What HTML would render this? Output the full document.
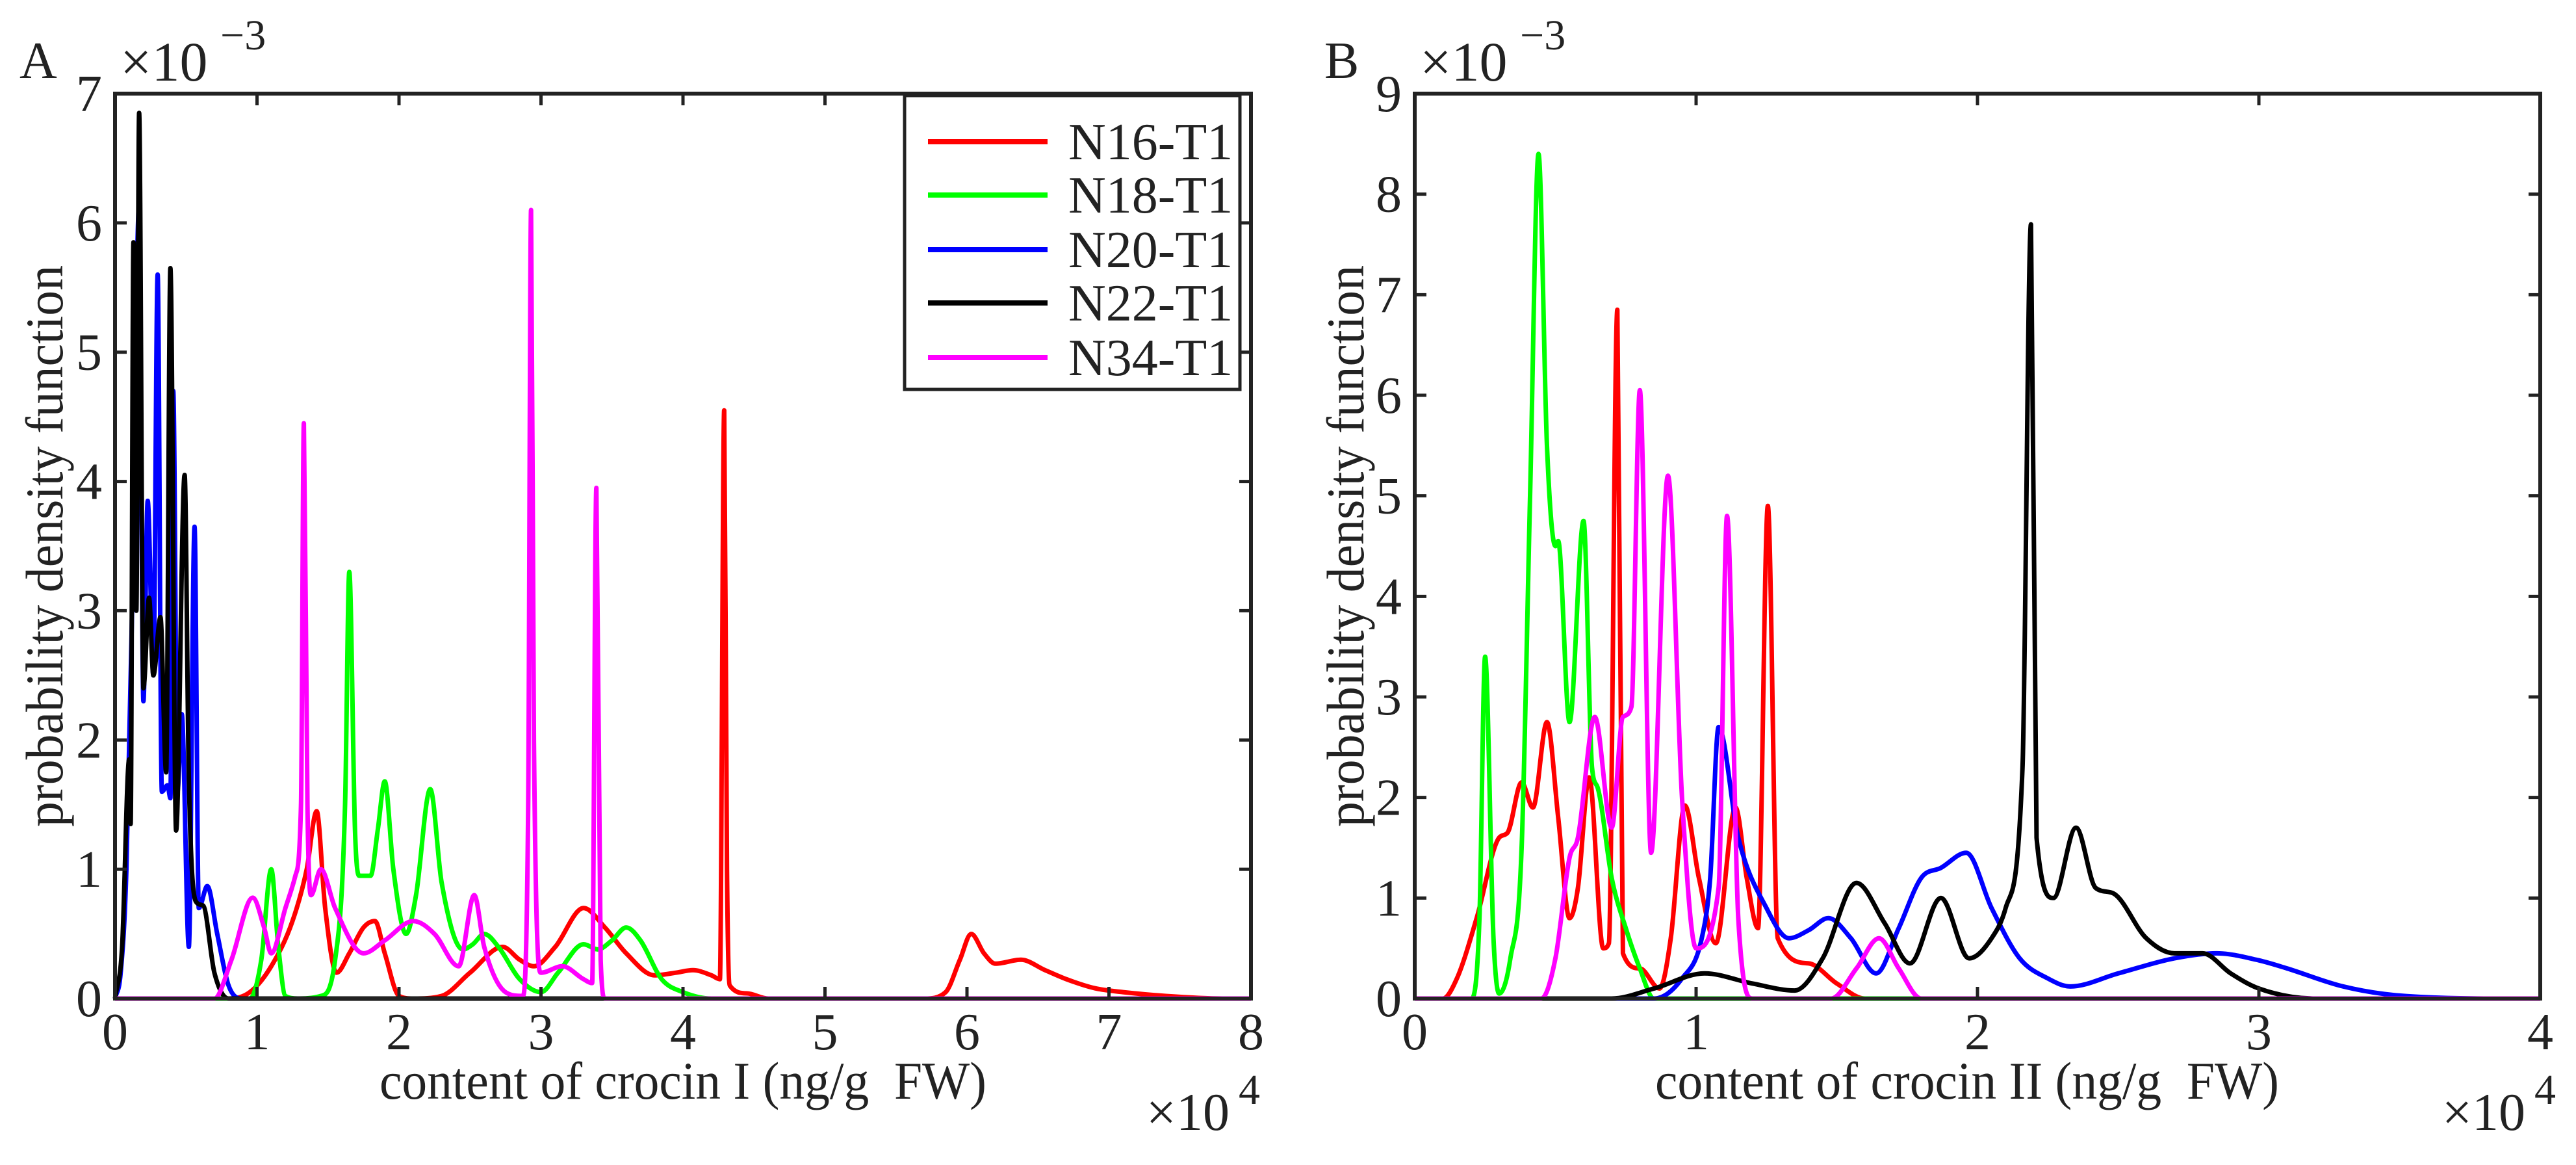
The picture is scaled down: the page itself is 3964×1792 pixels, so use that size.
<!DOCTYPE html>
<html><head><meta charset="utf-8"><style>
html,body{margin:0;padding:0;background:#fff;}
svg{display:block;font-family:"Liberation Serif",serif;}
</style></head><body>
<svg id="fig" width="3964" height="1792" viewBox="0 0 3964 1792" xmlns="http://www.w3.org/2000/svg">
<rect width="3964" height="1792" fill="#fff"/>
</svg>
<script>
// ---------- data (x in 1e4 ng/g, y in 1e-3) ----------
const seriesNames = ["N16-T1","N18-T1","N20-T1","N22-T1","N34-T1"];
const seriesColors = ["#ff0000","#00ff00","#0000ff","#000000","#ff00ff"];
const xTicksA = [0,1,2,3,4,5,6,7,8];
const yTicksA = [0,1,2,3,4,5,6,7];
const xTicksB = [0,1,2,3,4];
const yTicksB = [0,1,2,3,4,5,6,7,8,9];

const a_N16 = [[0,0],[0.8,0],[0.95,0.05],[1.1,0.25],[1.25,0.6],[1.35,1.0],[1.42,1.45],[1.48,0.7],[1.56,0.2],[1.65,0.35],[1.75,0.55],[1.83,0.6],[1.9,0.35],[2.0,0.02],[2.1,0],[2.3,0.02],[2.5,0.2],[2.73,0.4],[2.85,0.3],[2.95,0.25],[3.1,0.4],[3.3,0.7],[3.45,0.55],[3.6,0.35],[3.8,0.18],[3.95,0.2],[4.07,0.22],[4.2,0.18],[4.26,0.15],[4.29,4.55],[4.31,1.0],[4.33,0.1],[4.45,0.04],[4.6,0],[5.7,0],[5.85,0.05],[5.95,0.3],[6.03,0.5],[6.12,0.35],[6.2,0.27],[6.38,0.3],[6.55,0.22],[6.7,0.15],[6.9,0.08],[7.1,0.05],[7.4,0.02],[7.8,0],[7.95,0]];
const a_N18 = [[0,0],[0.95,0],[1.03,0.3],[1.1,1.0],[1.15,0.4],[1.2,0.02],[1.3,0],[1.45,0.02],[1.55,0.3],[1.62,1.5],[1.65,3.3],[1.69,1.3],[1.72,0.95],[1.8,0.95],[1.85,1.3],[1.9,1.68],[1.96,1.0],[2.05,0.5],[2.12,0.8],[2.22,1.62],[2.3,0.9],[2.45,0.38],[2.52,0.42],[2.6,0.5],[2.7,0.4],[2.85,0.15],[3.0,0.05],[3.12,0.2],[3.3,0.42],[3.4,0.38],[3.5,0.45],[3.6,0.55],[3.7,0.45],[3.85,0.15],[4.0,0.05],[4.2,0],[8,0]];
const a_N20 = [[0,0],[0.04,0.2],[0.08,1.0],[0.12,3.0],[0.17,6.15],[0.2,2.3],[0.23,3.85],[0.27,2.5],[0.3,5.6],[0.33,1.6],[0.37,1.65],[0.39,1.55],[0.41,4.7],[0.44,1.6],[0.47,2.2],[0.52,0.4],[0.56,3.65],[0.59,0.7],[0.65,0.87],[0.72,0.5],[0.8,0.1],[0.9,0],[8,0]];
const a_N22 = [[0,0],[0.05,0.4],[0.1,1.85],[0.11,1.35],[0.13,5.85],[0.15,3.0],[0.17,6.85],[0.2,2.4],[0.24,3.1],[0.27,2.5],[0.32,2.95],[0.36,1.75],[0.39,5.65],[0.43,1.3],[0.49,4.05],[0.52,1.7],[0.57,0.75],[0.62,0.72],[0.7,0.2],[0.8,0],[8,0]];
const a_N34 = [[0,0],[0.7,0],[0.82,0.3],[0.97,0.78],[1.05,0.55],[1.1,0.35],[1.2,0.7],[1.27,0.95],[1.31,1.5],[1.33,4.45],[1.355,1.5],[1.38,0.8],[1.45,1.0],[1.55,0.7],[1.75,0.35],[1.9,0.45],[2.1,0.6],[2.25,0.5],[2.42,0.25],[2.53,0.8],[2.6,0.4],[2.75,0.05],[2.87,0.02],[2.91,1.5],[2.93,6.1],[2.95,2.0],[3.0,0.2],[3.15,0.25],[3.3,0.15],[3.36,0.12],[3.39,3.95],[3.42,0.3],[3.45,0],[8,0]];

const b_N16 = [[0,0],[0.1,0],[0.15,0.2],[0.22,0.8],[0.3,1.6],[0.33,1.65],[0.38,2.15],[0.42,1.9],[0.47,2.75],[0.51,1.8],[0.55,0.8],[0.58,1.1],[0.62,2.2],[0.67,0.5],[0.69,0.55],[0.72,6.85],[0.74,0.45],[0.8,0.3],[0.87,0.1],[0.91,0.6],[0.96,1.92],[1.01,1.2],[1.07,0.55],[1.14,1.9],[1.18,1.2],[1.22,0.7],[1.255,4.9],[1.29,0.6],[1.4,0.35],[1.5,0.15],[1.6,0],[4,0]];
const b_N18 = [[0,0],[0.2,0],[0.23,0.8],[0.25,3.4],[0.28,0.6],[0.3,0.05],[0.34,0.4],[0.38,1.5],[0.41,5.0],[0.44,8.4],[0.47,5.5],[0.5,4.5],[0.51,4.55],[0.55,2.75],[0.6,4.75],[0.63,2.3],[0.65,2.1],[0.7,1.2],[0.75,0.7],[0.8,0.3],[0.85,0],[4,0]];
const b_N20 = [[0,0],[0.85,0],[0.95,0.2],[1.02,0.6],[1.05,1.2],[1.08,2.7],[1.15,1.6],[1.25,0.9],[1.33,0.6],[1.4,0.68],[1.47,0.8],[1.55,0.6],[1.64,0.25],[1.72,0.7],[1.8,1.2],[1.87,1.3],[1.96,1.45],[2.05,0.9],[2.15,0.4],[2.25,0.2],[2.33,0.12],[2.5,0.25],[2.7,0.4],[2.85,0.45],[3.0,0.38],[3.1,0.3],[3.3,0.12],[3.5,0.03],[3.9,0],[4,0]];
const b_N22 = [[0,0],[0.7,0],[0.85,0.1],[1.03,0.25],[1.2,0.15],[1.35,0.08],[1.45,0.4],[1.57,1.15],[1.67,0.75],[1.76,0.35],[1.87,1.0],[1.97,0.4],[2.05,0.6],[2.1,0.9],[2.16,2.3],[2.19,7.7],[2.21,1.6],[2.27,1.0],[2.35,1.7],[2.42,1.1],[2.48,1.05],[2.6,0.6],[2.7,0.45],[2.8,0.45],[2.9,0.25],[3.0,0.1],[3.2,0],[4,0]];
const b_N34 = [[0,0],[0.45,0],[0.5,0.4],[0.55,1.4],[0.58,1.6],[0.64,2.8],[0.7,1.7],[0.74,2.8],[0.77,2.9],[0.8,6.05],[0.84,1.45],[0.9,5.2],[0.95,2.0],[1.0,0.5],[1.08,1.1],[1.11,4.8],[1.15,0.8],[1.2,0],[1.48,0],[1.57,0.3],[1.65,0.6],[1.72,0.3],[1.8,0],[4,0]];

const seriesA = [a_N16,a_N18,a_N20,a_N22,a_N34];
const seriesB = [b_N16,b_N18,b_N20,b_N22,b_N34];

// ---------- drawing ----------
const NS = "http://www.w3.org/2000/svg";
const svg = document.getElementById("fig");
function mk(tag, attrs, parent){
  const e = document.createElementNS(NS, tag);
  for (const k in attrs) e.setAttribute(k, attrs[k]);
  (parent||svg).appendChild(e);
  return e;
}
function monoPath(pts){
  const n = pts.length; if(n<2) return "";
  const d=[], m=[];
  for(let i=0;i<n-1;i++){ const dx=pts[i+1][0]-pts[i][0]; d.push(dx===0?0:(pts[i+1][1]-pts[i][1])/dx); }
  m[0]=d[0]; m[n-1]=d[n-2];
  for(let i=1;i<n-1;i++){ m[i]=(d[i-1]*d[i]<=0)?0:(d[i-1]+d[i])/2; }
  for(let i=0;i<n-1;i++){
    if(d[i]===0){m[i]=0;m[i+1]=0;continue;}
    const a=m[i]/d[i], b=m[i+1]/d[i], s=a*a+b*b;
    if(s>9){const t=3/Math.sqrt(s); m[i]=t*a*d[i]; m[i+1]=t*b*d[i];}
  }
  let p = "M"+pts[0][0].toFixed(1)+","+pts[0][1].toFixed(1);
  for(let i=0;i<n-1;i++){
    const h=(pts[i+1][0]-pts[i][0])/3;
    p+=" C"+(pts[i][0]+h).toFixed(1)+","+(pts[i][1]+m[i]*h).toFixed(1)+" "+(pts[i+1][0]-h).toFixed(1)+","+(pts[i+1][1]-m[i+1]*h).toFixed(1)+" "+pts[i+1][0].toFixed(1)+","+pts[i+1][1].toFixed(1);
  }
  return p;
}

function panel(cfg){
  const g = mk("g",{});
  
  
  const {x0,x1,y0,y1,xmax,ymax} = cfg;
  const sx = v => x0 + v/xmax*(x1-x0);
  const sy = v => y1 - v/ymax*(y1-y0);
  const plot = mk("g",{},g);
  
  
  cfg.series.forEach((s,i)=>{
    const pts = s.map(p=>[sx(p[0]), Math.min(y1, sy(p[1]))]);
    const path = mk("path",{d:monoPath(pts),fill:"none",stroke:seriesColors[i],"stroke-width":7,"stroke-linejoin":"round"},plot);
    
    
  });
  const box = mk("rect",{x:x0,y:y0,width:x1-x0,height:y1-y0,fill:"none",stroke:"#222","stroke-width":6},g);
  
  
  const tl = 18;
  cfg.xticks.forEach(t=>{
    const x = sx(t);
    mk("line",{x1:x,y1:y1,x2:x,y2:y1-tl,stroke:"#222","stroke-width":5},g);
    mk("line",{x1:x,y1:y0,x2:x,y2:y0+tl,stroke:"#222","stroke-width":5},g);
    const lbl = mk("text",{x:x,y:y1+78,"font-size":80,"text-anchor":"middle",fill:"#222"},g);
    lbl.textContent = t;
    
    
  });
  cfg.yticks.forEach(t=>{
    const y = sy(t);
    mk("line",{x1:x0,y1:y,x2:x0+tl,y2:y,stroke:"#222","stroke-width":5},g);
    mk("line",{x1:x1,y1:y,x2:x1-tl,y2:y,stroke:"#222","stroke-width":5},g);
    const lbl = mk("text",{x:x0-20,y:y+27,"font-size":80,"text-anchor":"end",fill:"#222"},g);
    lbl.textContent = t;
    
    
  });
  const L = mk("text",{x:cfg.letterX,y:120,"font-size":80,fill:"#222"},g);
  L.textContent = cfg.letter;
  
  
  const ym = mk("text",{x:x0+8,y:124,"font-size":86,fill:"#222"},g);
  ym.textContent = "×10";
  
  
  const ye = mk("text",{x:x0+162,y:76,"font-size":66,fill:"#222"},g);
  ye.textContent = "−3";
  
  
  const xm = mk("text",{x:cfg.xmEnd,y:1738,"font-size":82,"text-anchor":"end",fill:"#222"},g);
  xm.textContent = "×10";
  
  
  const xe = mk("text",{x:cfg.xmEnd+14,y:1698,"font-size":66,fill:"#222"},g);
  xe.textContent = "4";
  
  
  const xt = mk("text",{x:cfg.xlabelX,y:1690,"font-size":82,"text-anchor":"middle",fill:"#222",textLength:cfg.xlabelLen,lengthAdjust:"spacingAndGlyphs"},g);
  xt.textContent = cfg.xlabel;
  
  
  const yt = mk("text",{x:0,y:0,"font-size":82,"text-anchor":"middle",fill:"#222",textLength:864,lengthAdjust:"spacingAndGlyphs",transform:"translate("+cfg.ylabelX+",840) rotate(-90)"},g);
  yt.textContent = "probability density function";
  
  
}

panel({name:"panel-a",letter:"A",letterX:30,x0:177,x1:1925,y0:144,y1:1536,xmax:8,ymax:7,xmEnd:1892,
  series:seriesA,xticks:xTicksA,yticks:yTicksA,xlabel:"content of crocin I (ng/g\u00a0 FW)",xlabelX:1051,xlabelLen:934,ylabelX:96});
panel({name:"panel-b",letter:"B",letterX:2038,x0:2177,x1:3909,y0:144,y1:1536,xmax:4,ymax:9,xmEnd:3886,
  series:seriesB,xticks:xTicksB,yticks:yTicksB,xlabel:"content of crocin II (ng/g\u00a0 FW)",xlabelX:3027,xlabelLen:960,ylabelX:2098});

const lg = mk("g",{});


const lbox = mk("rect",{x:1392,y:147,width:516,height:452,fill:"#fff",stroke:"#222","stroke-width":5},lg);


const rowY = [218,300,384,466,550];
seriesNames.forEach((nm,i)=>{
  const ln = mk("line",{x1:1428,y1:rowY[i],x2:1612,y2:rowY[i],stroke:seriesColors[i],"stroke-width":8},lg);
  
  
  const t = mk("text",{x:1644,y:rowY[i]+27,"font-size":80,fill:"#222"},lg);
  t.textContent = nm;
  
  
});
</script>
</body></html>
